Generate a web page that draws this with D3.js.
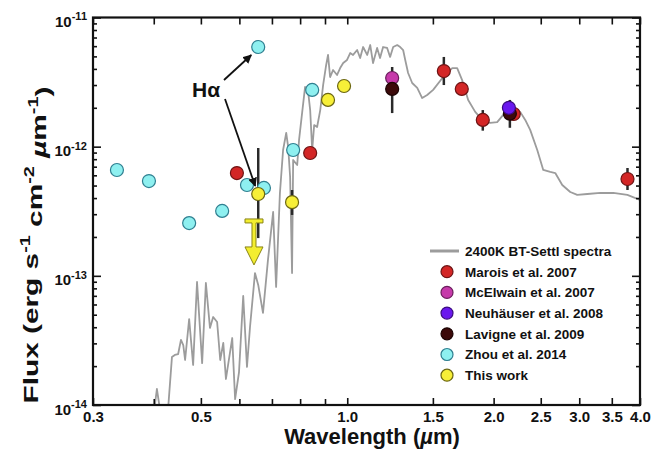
<!DOCTYPE html>
<html>
<head>
<meta charset="utf-8">
<script src="https://cdn.jsdelivr.net/npm/d3@7"></script>
<style>
body{margin:0;background:#fff;}
text{font-family:"Liberation Sans",Arial,Helvetica,sans-serif;font-weight:bold;fill:#111;}
</style>
</head>
<body>
<svg id="chart" width="666" height="453"></svg>
<script>
// 2400K BT-Settl model spectrum
var specLam = [0.401,0.406,0.412,0.428,0.436,0.442,0.449,0.455,0.460,0.464,0.473,0.482,0.491,0.503,0.512,0.522,0.530,0.540,0.548,0.556,
	0.563,0.580,0.588,0.599,0.611,0.622,0.631,0.646,0.656,0.671,0.687,0.704,0.714,0.727,0.738,0.749,0.756,0.763,0.770,0.774,
	0.789,0.796,0.808,0.819,0.831,0.839,0.847,0.855,0.867,0.880,0.892,0.905,0.913,0.922,0.935,0.953,0.967,0.981,0.999,1.014,
	1.028,1.048,1.063,1.078,1.099,1.115,1.130,1.152,1.168,1.185,1.208,1.225,1.243,1.267,1.285,1.303,1.316,1.334,1.360,1.393,
	1.426,1.460,1.502,1.575,1.644,1.683,1.723,1.773,1.833,1.895,1.968,2.034,2.093,2.194,2.268,2.323,2.378,2.459,2.530,2.615,
	2.678,2.768,2.875,2.972,3.117,3.316,3.525,3.768,4.0];
var specFlux = [9.2e-15,1.33e-14,9.2e-15,9.2e-15,2.35e-14,2.44e-14,2.48e-14,3.19e-14,2.91e-14,2.23e-14,4.63e-14,2.04e-14,8.96e-14,2.11e-14,8.80e-14,3.95e-14,4.80e-14,4.39e-14,2.23e-14,3.02e-14,
	1.59e-14,3.30e-14,1.11e-14,1.80e-14,6.98e-14,1.97e-14,4.02e-14,1.05e-13,8.50e-14,5.16e-14,1.33e-13,3.12e-13,8.20e-14,4.38e-13,9.42e-13,1.28e-12,9.94e-13,5.82e-13,1.05e-13,7.89e-13,
	7.21e-13,1.13e-12,1.86e-12,2.90e-12,2.65e-12,1.92e-12,9.42e-13,1.47e-12,1.42e-12,1.92e-12,3.00e-12,4.29e-12,5.13e-12,3.46e-12,3.92e-12,3.59e-12,4.06e-12,4.44e-12,4.69e-12,5.31e-12,
	5.13e-12,5.60e-12,4.86e-12,5.91e-12,5.13e-12,6.12e-12,4.44e-12,5.81e-12,4.86e-12,5.91e-12,5.81e-12,4.95e-12,5.91e-12,6.12e-12,5.91e-12,5.60e-12,4.69e-12,3.72e-12,3.11e-12,2.85e-12,
	2.38e-12,2.51e-12,2.75e-12,3.46e-12,4.06e-12,4.06e-12,3.28e-12,2.30e-12,1.86e-12,1.61e-12,1.53e-12,1.55e-12,1.76e-12,1.86e-12,1.86e-12,1.61e-12,1.35e-12,9.42e-13,6.60e-13,6.37e-13,
	6.25e-13,5.05e-13,4.46e-13,4.23e-13,4.30e-13,4.38e-13,4.38e-13,4.23e-13,3.87e-13];

// photometry, wavelength in micron, flux in erg/s/cm2/micron
var maroisLam  = [0.593, 0.839, 1.58, 1.72, 1.90, 2.20, 3.77];
var maroisFlux = [6.25e-13, 8.93e-13, 3.85e-12, 2.80e-12, 1.61e-12, 1.79e-12, 5.62e-13];
var maroisLo   = [null, null, 3.00e-12, null, 1.33e-12, null, 4.62e-13];
var maroisHi   = [null, null, 4.95e-12, null, 1.92e-12, null, 6.84e-13];

var mcelwainLam  = [1.237];
var mcelwainFlux = [3.40e-12];

var neuhauserLam  = [2.15];
var neuhauserFlux = [2.00e-12];

var lavigneLam  = [1.237, 2.16];
var lavigneFlux = [2.80e-12, 1.80e-12];
var lavigneLo   = [1.82e-12, 1.40e-12];
var lavigneHi   = [4.14e-12, 2.30e-12];

var zhouLam  = [0.336, 0.391, 0.473, 0.553, 0.622, 0.674, 0.656, 0.774, 0.847];
var zhouFlux = [6.60e-13, 5.42e-13, 2.56e-13, 3.18e-13, 5.05e-13, 4.79e-13, 5.91e-12, 9.42e-13, 2.75e-12];

var thisLam  = [0.656, 0.770, 0.913, 0.985];
var thisFlux = [4.30e-13, 3.72e-13, 2.30e-12, 2.95e-12];
var thisLo   = [1.96e-13, 2.96e-13, null, null];
var thisHi   = [9.77e-13, 4.62e-13, null, null];

var upperLam  = [0.643];
var upperFlux = [2.66e-13];

// ticks
var xMajor = [0.3, 0.5, 1.0, 1.5, 2.0, 2.5, 3.0, 3.5, 4.0];
var xMinor = [0.4, 0.6, 0.7, 0.8, 0.9];
var yMajor = [1e-14, 1e-13, 1e-12, 1e-11];

var legendNames = ["2400K BT-Settl spectra", "Marois et al. 2007", "McElwain et al. 2007", "Neuhäuser et al. 2008",
	"Lavigne et al. 2009", "Zhou et al. 2014", "This work"];

var series = [
	{fill: '#d32626', stroke: '#6e1414', lam: maroisLam, flux: maroisFlux, lo: maroisLo, hi: maroisHi},
	{fill: '#c63aaa', stroke: '#6a1e5c', lam: mcelwainLam, flux: mcelwainFlux},
	{fill: '#6a18ee', stroke: '#3a0c80', lam: neuhauserLam, flux: neuhauserFlux},
	{fill: '#3c0a0a', stroke: '#1c0404', lam: lavigneLam, flux: lavigneFlux, lo: lavigneLo, hi: lavigneHi},
	{fill: '#8ef0f0', stroke: '#2f7f90', lam: zhouLam, flux: zhouFlux},
	{fill: '#f7ef38', stroke: '#6b6612', lam: thisLam, flux: thisFlux, lo: thisLo, hi: thisHi}
];
var drawOrder = [0, 1, 3, 2, 4, 5];

var padL = 93, padR = 640, padT = 17.5, padB = 405, R = 6.5;

var svg = d3.select('#chart');

var x = d3.scaleLog().domain([0.3, 4.0]).range([padL, padR]);
var y = d3.scaleLog().domain([1e-14, 1e-11]).range([padB, padT]);

var defs = svg.append('defs');
defs.append('clipPath').attr('id', 'plot')
	.append('rect').attr('x', padL).attr('y', padT).attr('width', padR - padL).attr('height', padB - padT);

var arrow = defs.append('marker')
	.attr('id', 'head').attr('viewBox', '0 0 10 10').attr('refX', 9).attr('refY', 5)
	.attr('markerWidth', 9).attr('markerHeight', 9).attr('markerUnits', 'userSpaceOnUse')
	.attr('orient', 'auto');
arrow.append('path').attr('d', 'M0,0L10,5L0,10z').attr('fill', '#111');

// spectrum
var line = d3.line().x(function(d){ return x(d[0]); }).y(function(d){ return y(d[1]); });
svg.append('path')
	.datum(specLam.map(function(l, i){ return [l, specFlux[i]]; }))
	.attr('clip-path', 'url(#plot)')
	.attr('d', line)
	.attr('fill', 'none')
	.attr('stroke', '#9c9c9c')
	.attr('stroke-width', 1.8)
	.attr('stroke-linejoin', 'round');

// error bars
series.forEach(function(s){
	if (!s.lo) return;
	s.lam.forEach(function(l, i){
		if (s.lo[i] == null) return;
		svg.append('line')
			.attr('x1', x(l)).attr('x2', x(l))
			.attr('y1', y(s.lo[i])).attr('y2', y(s.hi[i]))
			.attr('stroke', '#2a2a2a').attr('stroke-width', 2.5);
	});
});

// upper limit (T + arrow)
upperLam.forEach(function(l, i){
	var cx = x(l), cy = y(upperFlux[i]);
	var p = 'M' + (cx - 9) + ',' + (cy - 2) + 'h18v4h-7v24h7l-9,18l-9,-18h7v-24h-7z';
	svg.append('path').attr('d', p).attr('fill', '#f3ee30').attr('stroke', '#8a8416').attr('stroke-width', 1);
});

// markers
drawOrder.forEach(function(k){
	var s = series[k];
	svg.append('g').selectAll('circle')
		.data(s.lam.map(function(l, i){ return [l, s.flux[i]]; }))
		.enter().append('circle')
		.attr('cx', function(d){ return x(d[0]); })
		.attr('cy', function(d){ return y(d[1]); })
		.attr('r', R)
		.attr('fill', s.fill)
		.attr('stroke', s.stroke)
		.attr('stroke-width', 1.2);
});

// axes, ticks point inward
var yMinor = y.ticks().filter(function(d){ return Math.abs(Math.log10(d) - Math.round(Math.log10(d))) > 1e-6; });

function noDomain(g){ g.select('.domain').remove(); g.selectAll('.tick line').attr('stroke', '#111').attr('stroke-width', 1.6); }

svg.append('g').attr('transform', 'translate(0,' + padB + ')')
	.call(d3.axisBottom(x).tickValues(xMajor).tickSize(-7).tickPadding(6).tickFormat(d3.format('.1f')))
	.call(noDomain)
	.selectAll('text').attr('font-size', 15).attr('font-family', null).attr('fill', '#111');
svg.append('g').attr('transform', 'translate(0,' + padB + ')')
	.call(d3.axisBottom(x).tickValues(xMinor).tickSize(-6).tickFormat(''))
	.call(noDomain);
svg.append('g').attr('transform', 'translate(0,' + padT + ')')
	.call(d3.axisTop(x).tickValues(xMajor.concat(xMinor)).tickSize(-7).tickFormat(''))
	.call(noDomain);

var gy = svg.append('g').attr('transform', 'translate(' + padL + ',0)')
	.call(d3.axisLeft(y).tickValues(yMajor).tickSize(-8).tickPadding(6))
	.call(noDomain);
gy.selectAll('.tick text').text(null)
	.attr('font-size', 15).attr('font-family', null).attr('fill', '#111').attr('dy', '0.6em')
	.each(function(d){
		var t = d3.select(this);
		t.append('tspan').text('10');
		t.append('tspan').attr('dy', '-0.6em').attr('font-size', 11).text(Math.round(Math.log10(d)));
	});
svg.append('g').attr('transform', 'translate(' + padL + ',0)')
	.call(d3.axisLeft(y).tickValues(yMinor).tickSize(-4).tickFormat(''))
	.call(noDomain);
svg.append('g').attr('transform', 'translate(' + padR + ',0)')
	.call(d3.axisRight(y).tickValues(yMajor).tickSize(-8).tickFormat(''))
	.call(noDomain);
svg.append('g').attr('transform', 'translate(' + padR + ',0)')
	.call(d3.axisRight(y).tickValues(yMinor).tickSize(-4).tickFormat(''))
	.call(noDomain);

// frame
svg.append('rect')
	.attr('x', padL).attr('y', padT).attr('width', padR - padL).attr('height', padB - padT)
	.attr('fill', 'none').attr('stroke', '#111').attr('stroke-width', 2.2);

// axis titles
var xt = svg.append('text').attr('x', 372).attr('y', 444).attr('text-anchor', 'middle').attr('font-size', 22);
xt.append('tspan').text('Wavelength (');
xt.append('tspan').attr('font-style', 'italic').text('µ');
xt.append('tspan').text('m)');

var yt = svg.append('text').attr('text-anchor', 'middle').attr('font-size', 21)
	.attr('transform', 'translate(38,245) rotate(-90) scale(1.42,1)');
yt.append('tspan').text('Flux (erg s');
yt.append('tspan').attr('dy', '-0.55em').attr('font-size', 14).text('-1');
yt.append('tspan').attr('dy', '0.55em').text(' cm');
yt.append('tspan').attr('dy', '-0.55em').attr('font-size', 14).text('-2');
yt.append('tspan').attr('dy', '0.55em').text(' ');
yt.append('tspan').attr('font-style', 'italic').text('µ');
yt.append('tspan').text('m');
yt.append('tspan').attr('dy', '-0.55em').attr('font-size', 14).text('-1');
yt.append('tspan').attr('dy', '0.55em').text(')');

// H-alpha annotation
svg.append('text').attr('x', 192).attr('y', 97).attr('font-size', 21).text('Hα');
svg.append('line').attr('x1', 224).attr('y1', 80).attr('x2', x(0.656) - 7).attr('y2', y(5.91e-12) + 8)
	.attr('stroke', '#111').attr('stroke-width', 1.8).attr('marker-end', 'url(#head)');
svg.append('line').attr('x1', 225).attr('y1', 99).attr('x2', x(0.656) - 3).attr('y2', y(4.3e-13) - 8)
	.attr('stroke', '#111').attr('stroke-width', 1.8).attr('marker-end', 'url(#head)');

// legend
var lg = svg.append('g').attr('transform', 'translate(430,251)');
legendNames.forEach(function(name, i){
	var row = lg.append('g').attr('transform', 'translate(0,' + (i * 20.7) + ')');
	if (i == 0){
		row.append('line').attr('x1', 0).attr('x2', 29).attr('stroke', '#9c9c9c').attr('stroke-width', 3);
	} else {
		row.append('circle').attr('cx', 17).attr('r', 6).attr('fill', series[i - 1].fill)
			.attr('stroke', series[i - 1].stroke).attr('stroke-width', 1.2);
	}
	row.append('text').attr('x', 35).attr('dy', '0.36em').attr('font-size', 13.5).text(name);
});
</script>
</body>
</html>
